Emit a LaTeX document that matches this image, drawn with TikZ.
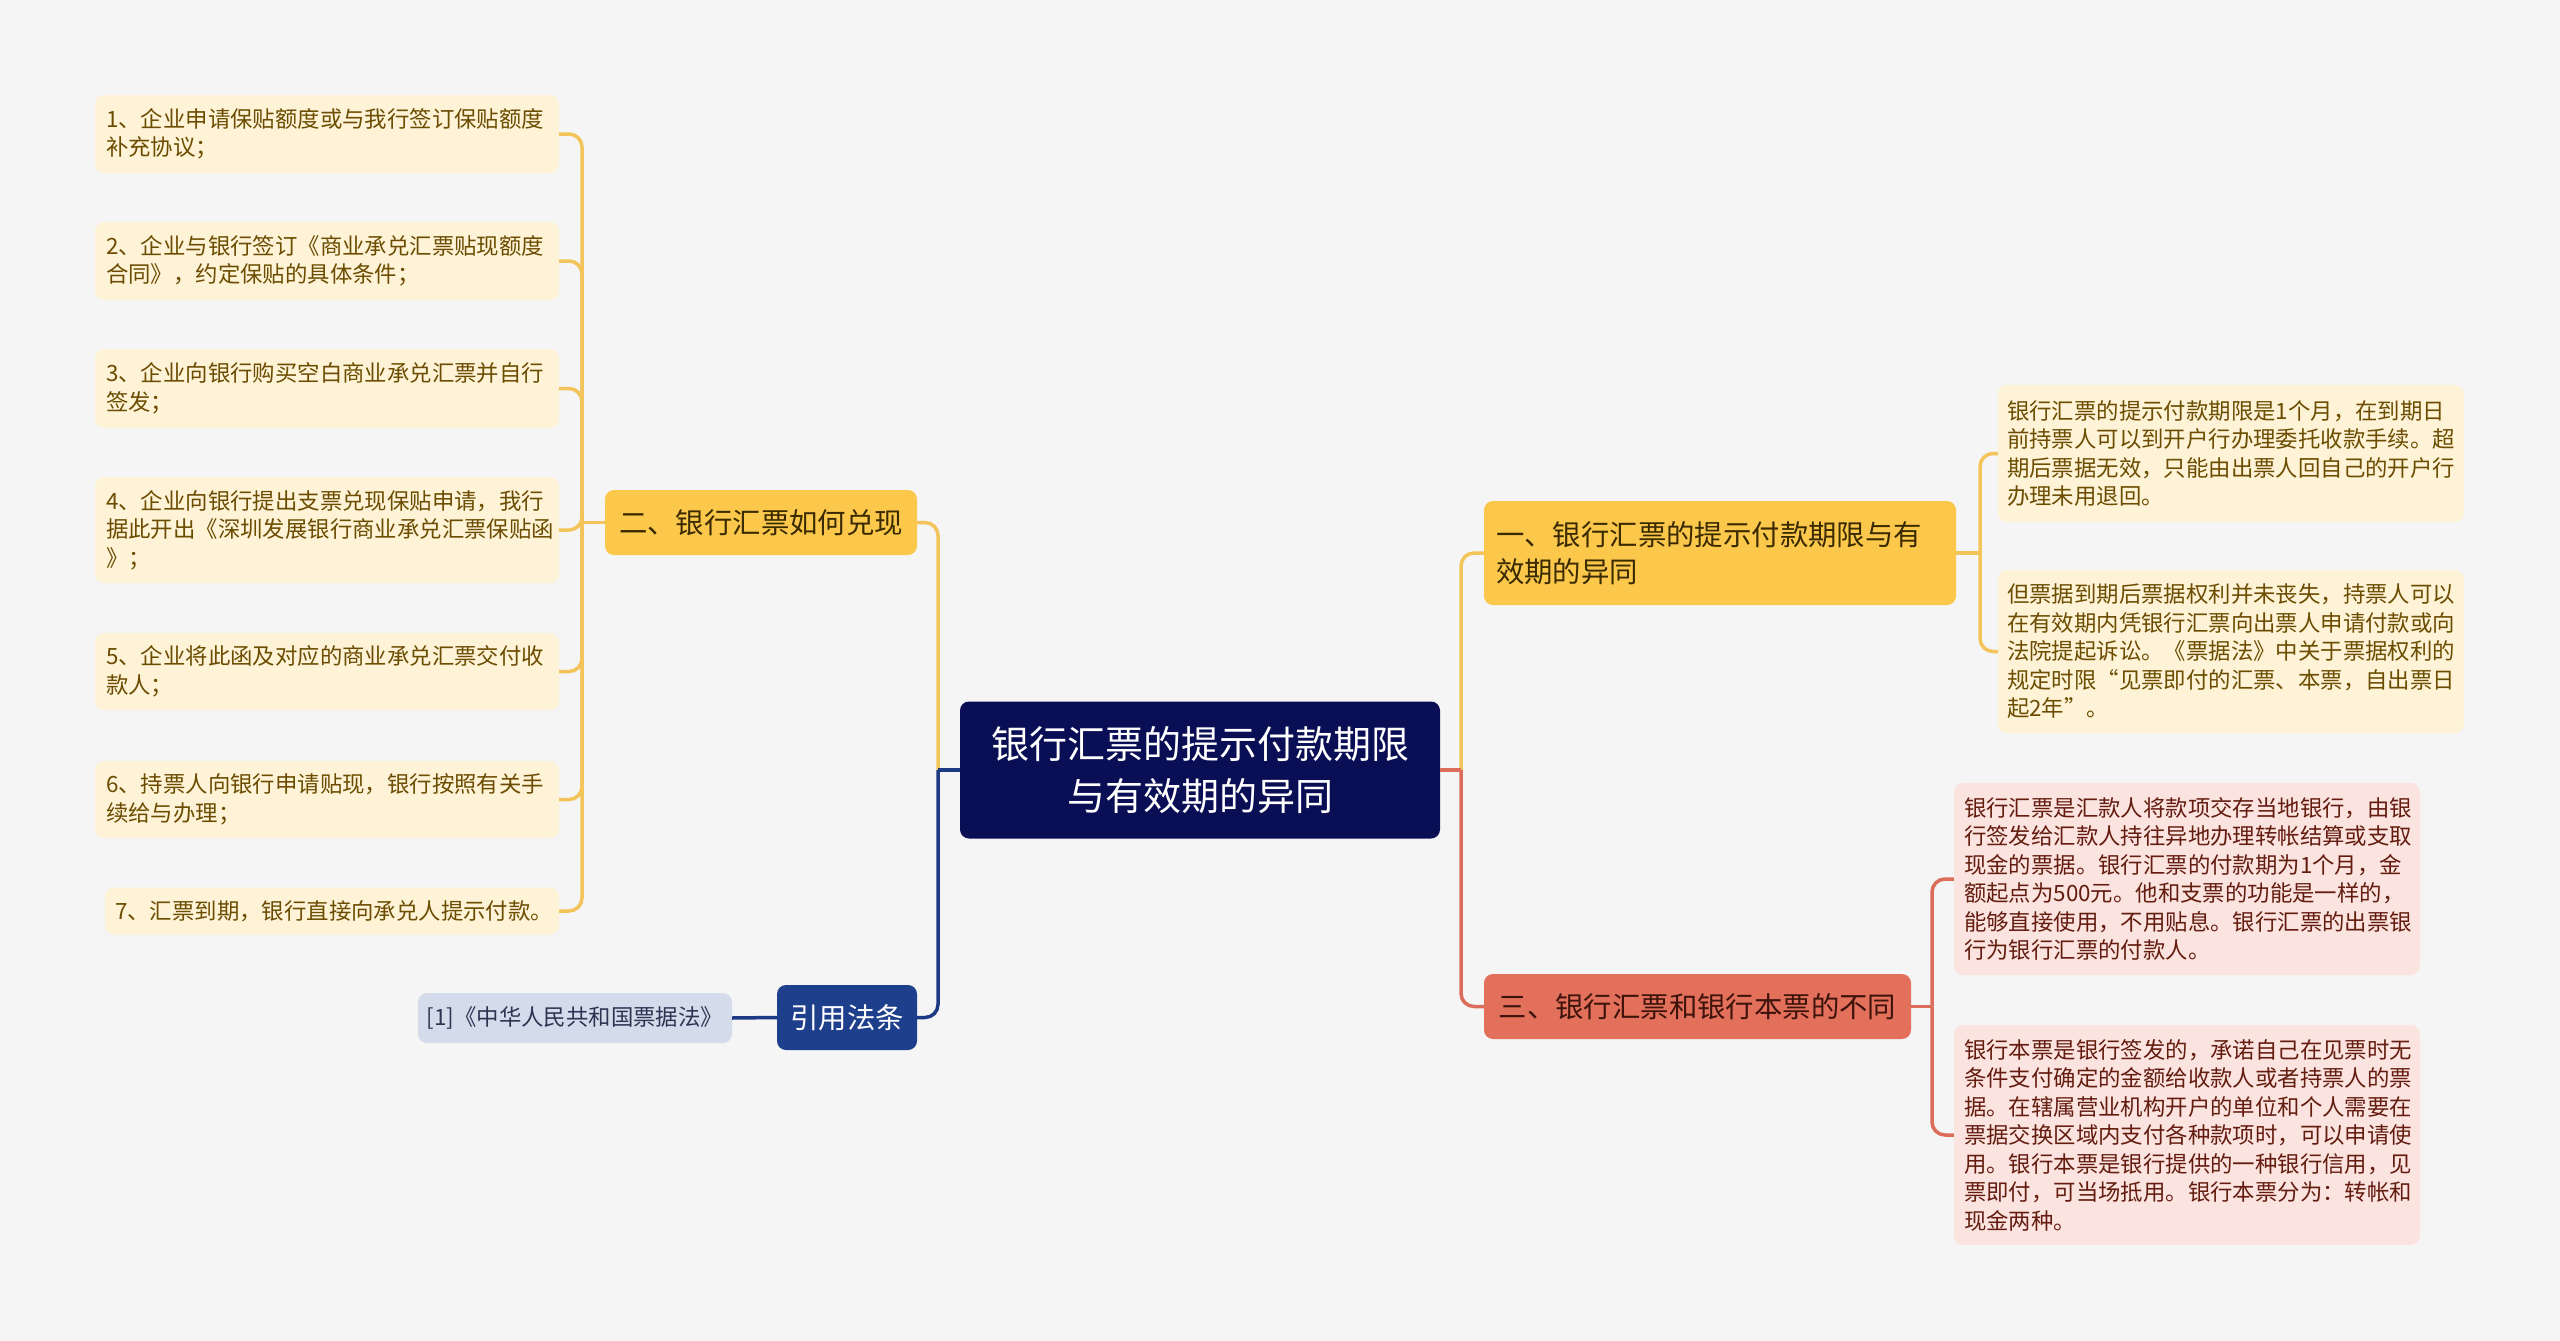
\documentclass[tikz,border=0pt]{standalone}
\usepackage{fontspec}
\setmainfont{Noto Sans CJK SC}
\definecolor{bgc}{HTML}{F5F5F5}
\definecolor{ymain}{HTML}{FCC84C}
\definecolor{yline}{HTML}{F2C45A}
\definecolor{yleaf}{HTML}{FEF3D7}
\definecolor{yleaftext}{HTML}{6B4C00}
\definecolor{ymaintext}{HTML}{3A2A00}
\definecolor{rmain}{HTML}{E2705B}
\definecolor{rline}{HTML}{DC6D5A}
\definecolor{rleaf}{HTML}{FBE4DF}
\definecolor{rleaftext}{HTML}{641C10}
\definecolor{rmaintext}{HTML}{3E130B}
\definecolor{bmain}{HTML}{1E3F8C}
\definecolor{bline}{HTML}{1E3A86}
\definecolor{bleaf}{HTML}{D4DBEA}
\definecolor{bleaftext}{HTML}{2E3352}
\definecolor{cmain}{HTML}{0A0E55}
\tikzset{
  box/.style={inner sep=0pt, rounded corners=9pt},
  leafy/.style={box, fill=yleaf, text=yleaftext, align=left, font=\fontsize{22.4}{28.5}\selectfont},
  leafr/.style={box, fill=rleaf, text=rleaftext, align=left, font=\fontsize{22.4}{28.5}\selectfont},
  mainy/.style={box, fill=ymain, text=ymaintext, font=\fontsize{28.4}{37}\selectfont},
  mainr/.style={box, fill=rmain, text=rmaintext, font=\fontsize{28.4}{37}\selectfont},
  mainb/.style={box, fill=bmain, text=white, font=\fontsize{28.4}{37}\selectfont},
  refb/.style={box, fill=bleaf, text=bleaftext, font=\fontsize{22.4}{28.5}\selectfont},
  rootbox/.style={box, fill=cmain, text=white, align=center, font=\fontsize{38}{52}\selectfont},
  conn/.style={line width=3.5pt, rounded corners=13pt},
  cy/.style={conn, draw=yline},
  cr/.style={conn, draw=rline},
  cb/.style={conn, draw=bline},
}
\begin{document}
\begin{tikzpicture}[x=1pt,y=-1pt]
\fill[bgc] (0,0) rectangle (2560,1341);
\useasboundingbox (0,0) rectangle (2560,1341);

% root
\node[rootbox, minimum width=480pt, minimum height=137pt] (root) at (1200,770) {银行汇票的提示付款期限\\与有效期的异同};

% main branches
\node[mainy, minimum width=312pt, minimum height=65pt] (n2) at (761,522.5) {二、银行汇票如何兑现};
\node[mainb, minimum width=140pt, minimum height=65pt] (law) at (847,1017.5) {引用法条};
\node[refb, minimum width=314pt, minimum height=50pt] (ref) at (575,1018) {[1]《中华人民共和国票据法》};
\node[mainy, minimum width=472pt, minimum height=104pt, text width=448pt, align=left] (n1) at (1720,553) {一、银行汇票的提示付款期限与有\\效期的异同};
\node[mainr, minimum width=427pt, minimum height=65pt] (n3) at (1697.5,1006.5) {三、银行汇票和银行本票的不同};

% left leaves
\node[leafy, minimum width=464pt, minimum height=78pt, text width=442pt] (L1) at (327,134) {1、企业申请保贴额度或与我行签订保贴额度\\补充协议；};
\node[leafy, minimum width=464pt, minimum height=78pt, text width=442pt] (L2) at (327,261) {2、企业与银行签订《商业承兑汇票贴现额度\\合同》，约定保贴的具体条件；};
\node[leafy, minimum width=464pt, minimum height=79pt, text width=442pt] (L3) at (327,388.5) {3、企业向银行购买空白商业承兑汇票并自行\\签发；};
\node[leafy, minimum width=464pt, minimum height=106pt, text width=442pt] (L4) at (327,530) {4、企业向银行提出支票兑现保贴申请，我行\\据此开出《深圳发展银行商业承兑汇票保贴函\\》；};
\node[leafy, minimum width=464pt, minimum height=77pt, text width=442pt] (L5) at (327,671.5) {5、企业将此函及对应的商业承兑汇票交付收\\款人；};
\node[leafy, minimum width=464pt, minimum height=77pt, text width=442pt] (L6) at (327,799.5) {6、持票人向银行申请贴现，银行按照有关手\\续给与办理；};
\node[leafy, minimum width=454pt, minimum height=47pt, text width=434pt] (L7) at (332,911) {7、汇票到期，银行直接向承兑人提示付款。};

% right leaves of n1
\node[leafy, minimum width=466pt, minimum height=137pt, text width=448pt] (C1) at (2231,453.5) {银行汇票的提示付款期限是1个月，在到期日\\前持票人可以到开户行办理委托收款手续。超\\期后票据无效，只能由出票人回自己的开户行\\办理未用退回。};
\node[leafy, minimum width=466pt, minimum height=163pt, text width=448pt] (C2) at (2231,651.5) {但票据到期后票据权利并未丧失，持票人可以\\在有效期内凭银行汇票向出票人申请付款或向\\法院提起诉讼。《票据法》中关于票据权利的\\规定时限“见票即付的汇票、本票，自出票日\\起2年”。};

% right leaves of n3
\node[leafr, minimum width=466pt, minimum height=192pt, text width=446pt] (D1) at (2187,879) {银行汇票是汇款人将款项交存当地银行，由银\\行签发给汇款人持往异地办理转帐结算或支取\\现金的票据。银行汇票的付款期为1个月，金\\额起点为500元。他和支票的功能是一样的，\\能够直接使用，不用贴息。银行汇票的出票银\\行为银行汇票的付款人。};
\node[leafr, minimum width=466pt, minimum height=220pt, text width=446pt] (D2) at (2187,1135) {银行本票是银行签发的，承诺自己在见票时无\\条件支付确定的金额给收款人或者持票人的票\\据。在辖属营业机构开户的单位和个人需要在\\票据交换区域内支付各种款项时，可以申请使\\用。银行本票是银行提供的一种银行信用，见\\票即付，可当场抵用。银行本票分为：转帐和\\现金两种。};

% junction coordinates
\coordinate (tC) at (938,770);
\coordinate (tR) at (1461,770);
\coordinate (tL) at (582,522.5);
\coordinate (t1) at (1980,553);
\coordinate (t3) at (1932,1006.5);

% root to main branches
\draw[cy] (tC) |- (n2.east);
\draw[cb] (tC) |- (law.east);
\draw[cb, rounded corners=0pt] (root.west) -- (tC);
\draw[cy] (tR) |- (n1.west);
\draw[cr] (tR) |- (n3.west);
\draw[cr, rounded corners=0pt] (root.east) -- (tR);

% n2 to leaves
\draw[cy, rounded corners=0pt] (n2.west) -- (tL);
\foreach \n in {L1,L2,L3,L4,L5,L6,L7} \draw[cy] (tL) |- (\n.east);

% law to ref
\draw[cb, rounded corners=0pt] (law.west) -- (ref.east);

% n1 to leaves
\draw[cy, rounded corners=0pt] (n1.east) -- (t1);
\draw[cy] (t1) |- (C1.west);
\draw[cy] (t1) |- (C2.west);

% n3 to leaves
\draw[cr, rounded corners=0pt] (n3.east) -- (t3);
\draw[cr] (t3) |- (D1.west);
\draw[cr] (t3) |- (D2.west);
\end{tikzpicture}
\end{document}
